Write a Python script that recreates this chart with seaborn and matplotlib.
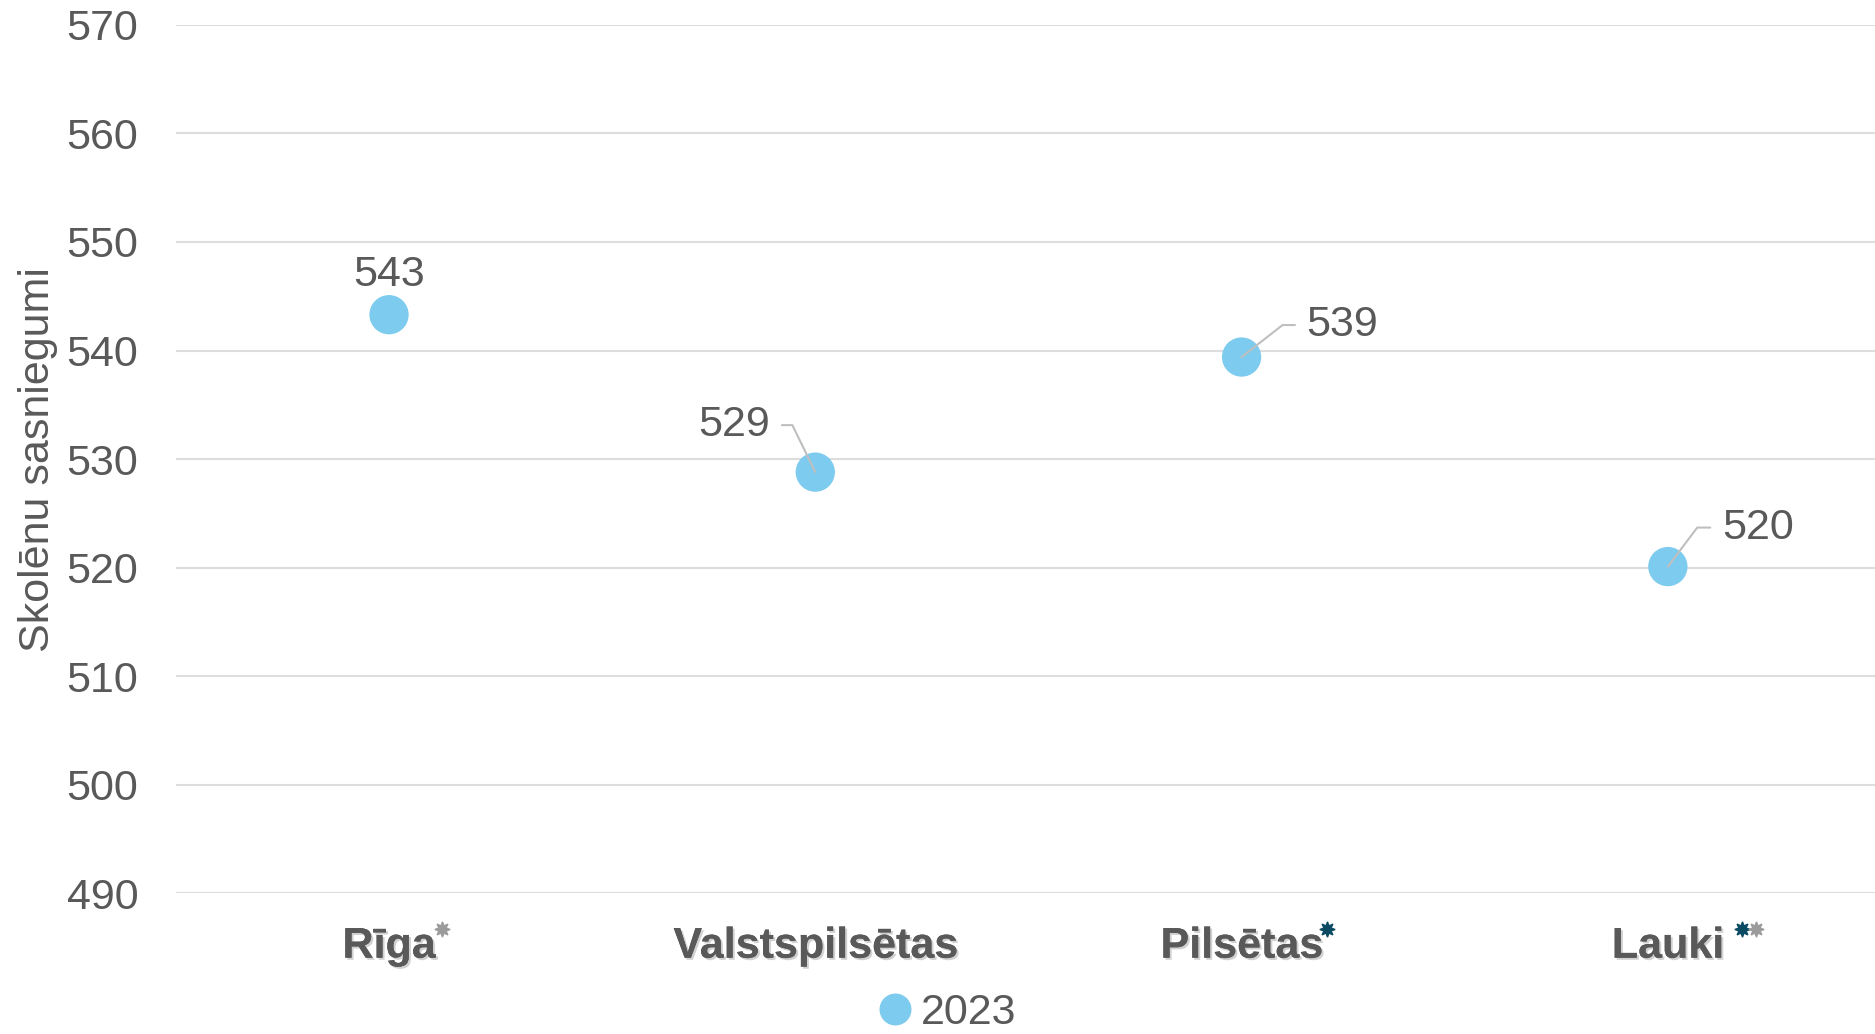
import pandas as pd
import numpy as np
import seaborn as sns
import matplotlib.pyplot as plt
import matplotlib.patheffects as pe
from matplotlib.transforms import offset_copy

# Dati
categories = ["Rīga", "Valstspilsētas", "Pilsētas", "Lauki"]
scores_2023 = [543.3, 528.8, 539.4, 520.1]
score_labels = ["543", "529", "539", "520"]
# zvaigznītes pie kategorijām (nozīmīgas atšķirības)
stars = [["#9B9B9B"], [], ["#0B4A63"], ["#0B4A63", "#9B9B9B"]]
yticks = [490, 500, 510, 520, 530, 540, 550, 560, 570]

df = pd.DataFrame({"kategorija": categories, "rezultats": scores_2023, "gads": "2023"})

sns.set_theme(style="white")
plt.rcParams["font.family"] = ["Liberation Sans", "DejaVu Sans"]
grey = "#595959"
blue = "#7DCBEE"

fig = plt.figure(figsize=(18.75, 10.34), dpi=100)
ax = fig.add_axes([0.0938, 0.136, 0.9094, 0.84])

sns.scatterplot(data=df, x="kategorija", y="rezultats", hue="gads", palette=[blue],
                s=800, edgecolor="none", ax=ax, zorder=3, legend=False)

ax.set_xlim(-0.5, 3.5)
ax.set_ylim(490, 570)
ax.set_yticks(yticks)
ax.grid(axis="y", color="#DDDDDD", linewidth=1.5)
ax.grid(axis="x", visible=False)
for s in ax.spines.values():
    s.set_visible(False)
ax.tick_params(axis="both", length=0, colors=grey)
ax.tick_params(axis="y", labelsize=31, pad=27)
ax.tick_params(axis="x", labelsize=31, pad=24)
for lab in ax.get_xticklabels():
    lab.set_fontweight("bold")
    lab.set_path_effects([pe.withSimplePatchShadow(offset=(1.5, -1.5), shadow_rgbFace="#9A9A9A", alpha=0.45),
                          pe.Normal()])
ax.set_xlabel("")
ax.set_ylabel("Skolēnu sasniegumi", fontsize=31, color=grey)
ax.yaxis.set_label_coords(-0.069, 0.5)

# datu etiķetes
offsets = [(0, 40), (-45, 47), (65, 32), (54, 39)]
angles = [None, 116, 38, 53]
for i, (v, t) in enumerate(zip(scores_2023, score_labels)):
    dx, dy = offsets[i]
    if angles[i] is None:
        ax.annotate(t, (i, v), xytext=(dx, dy), textcoords="offset pixels",
                    ha="center", va="center", fontsize=31, color=grey)
    else:
        ha = "right" if dx < 0 else "left"
        ax.annotate(t, (i, v), xytext=(dx, dy), textcoords="offset pixels",
                    ha=ha, va="center", fontsize=31, color=grey, zorder=4,
                    arrowprops=dict(arrowstyle="-", color="#BFBFBF", lw=1.5, shrinkA=6, shrinkB=0,
                                    connectionstyle=f"angle,angleA=0,angleB={angles[i]},rad=0"))

# zvaigznītes
star_dx = [53, 0, 85, 74]
xtrans = ax.get_xaxis_transform()
for i, cols in enumerate(stars):
    for j, c in enumerate(cols):
        tr = offset_copy(xtrans, fig=fig, x=star_dx[i] + 14 * j, y=-36, units="dots")
        ax.plot([i], [0], marker=(8, 1, 0), markersize=11, color=c, transform=tr,
                clip_on=False, linestyle="none")

# leģenda
h = plt.Line2D([], [], marker="o", linestyle="none", markersize=22, color=blue)
fig.legend([h], ["2023"], loc="center", bbox_to_anchor=(0.504, 0.02), frameon=False,
           fontsize=31, labelcolor=grey, handlelength=1.0, handletextpad=0.1, borderaxespad=0)

fig.savefig("out.png", dpi=100)
